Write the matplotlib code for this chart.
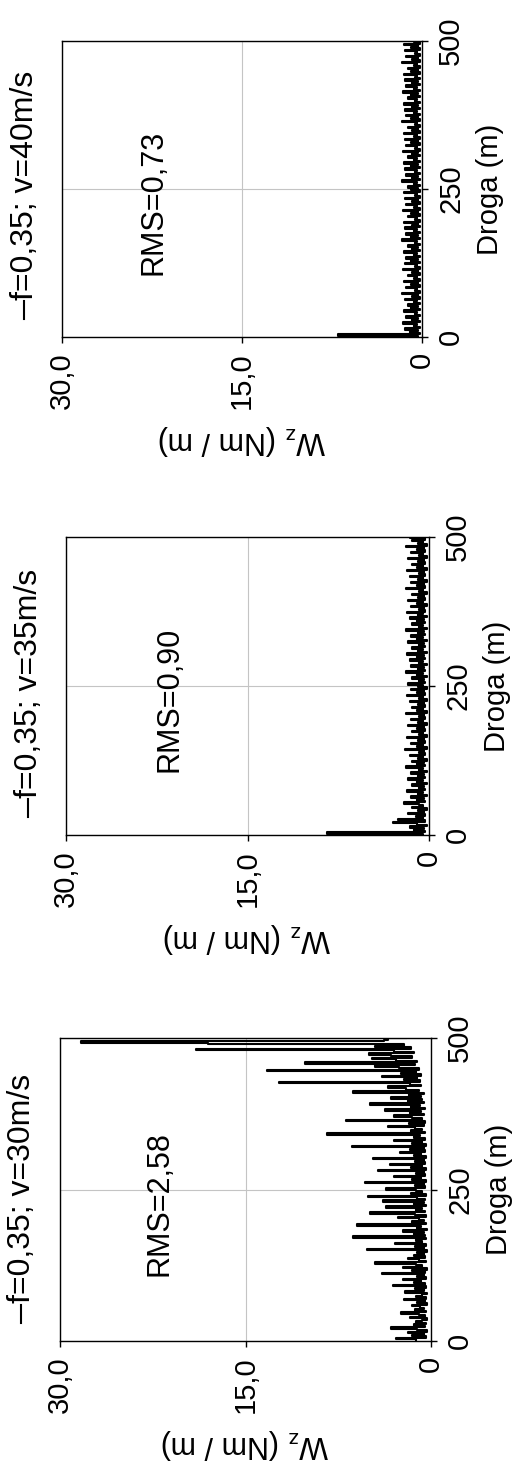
import matplotlib.pyplot as plt
import numpy as np

plt.rcParams['font.family'] = ['Liberation Sans', 'DejaVu Sans']
plt.rcParams['font.size'] = 21
plt.rcParams['mathtext.fontset'] = 'custom'
plt.rcParams['mathtext.rm'] = 'Liberation Sans'

# Droga (m), sampled every 2.5 m
droga = np.arange(0, 500.1, 2.5)

# Wz (Nm / m), f=0,35; v=30m/s
wz_30 = [
    1.2, 2.8, 0.4, 1.5, 0.6, 1.9, 0.3, 1.1, 3.2, 0.5,
    1.4, 0.4, 1.2, 0.7, 0.3, 1.7, 0.5, 1.0, 2.4, 0.4,
    1.3, 0.6, 0.9, 1.5, 0.3, 1.1, 0.5, 2.2, 0.4, 1.2,
    0.7, 0.3, 2.1, 0.6, 1.3, 0.4, 3.1, 0.5, 1.4, 0.8,
    2.3, 0.4, 1.1, 0.6, 4.0, 0.5, 1.5, 0.3, 2.3, 0.7,
    1.2, 4.5, 0.4, 1.0, 1.9, 0.5, 1.4, 0.6, 1.1, 0.3,
    5.2, 0.6, 1.3, 0.4, 2.9, 0.7, 1.2, 0.4, 6.3, 0.5,
    1.4, 0.6, 2.3, 0.3, 1.1, 0.8, 6.0, 0.4, 1.5, 0.6,
    1.0, 2.7, 0.4, 1.3, 4.9, 0.5, 1.2, 0.7, 3.6, 0.4,
    1.4, 0.6, 3.9, 0.5, 1.1, 5.1, 0.4, 1.6, 0.7, 1.2,
    3.6, 0.5, 1.3, 0.6, 5.3, 0.4, 1.5, 0.8, 3.0, 0.5,
    1.2, 0.6, 4.3, 0.4, 1.6, 0.7, 3.3, 0.5, 1.3, 0.6,
    4.7, 0.4, 1.4, 0.8, 2.5, 0.5, 1.7, 0.6, 6.4, 0.4,
    1.5, 0.7, 3.0, 0.5, 1.4, 0.9, 8.4, 0.5, 1.6, 0.7,
    1.3, 3.5, 0.6, 1.8, 0.5, 6.9, 0.7, 1.5, 3.0, 0.6,
    1.7, 0.8, 3.7, 0.5, 1.6, 0.9, 4.9, 0.6, 1.9, 0.7,
    3.2, 0.8, 1.8, 0.6, 6.3, 1.0, 2.0, 3.5, 0.8, 1.7,
    12.3, 0.9, 2.2, 1.1, 4.0, 0.8, 2.4, 1.2, 13.3, 1.0,
    2.6, 4.5, 1.3, 10.2, 1.1, 2.8, 4.8, 1.5, 3.2, 5.0,
    1.4, 3.0, 19.0, 1.6, 4.5, 2.2, 18.0, 28.3, 3.8, 3.5,
    2.0,
]

# f=0,35; v=35m/s
wz_35 = [
    0.5, 8.4, 0.3, 1.2, 0.4, 1.6, 0.2, 1.0, 3.0, 0.3,
    2.6, 0.5, 1.1, 0.3, 1.7, 0.4, 0.9, 0.2, 1.4, 0.5,
    0.8, 2.1, 0.3, 1.0, 0.4, 1.5, 0.2, 0.9, 0.5, 1.8,
    0.3, 0.8, 0.4, 1.4, 0.2, 1.0, 0.5, 1.7, 0.3, 0.9,
    0.4, 1.5, 0.2, 0.8, 0.5, 1.9, 0.3, 1.0, 0.4, 1.4,
    0.2, 0.9, 0.5, 1.6, 0.3, 0.8, 0.4, 2.0, 0.2, 1.0,
    0.5, 1.5, 0.3, 0.9, 0.4, 1.8, 0.2, 0.8, 0.5, 1.4,
    0.3, 1.0, 0.4, 1.7, 0.2, 0.9, 0.5, 1.5, 0.3, 0.8,
    0.4, 1.9, 0.2, 1.0, 0.5, 1.4, 0.3, 0.9, 0.4, 1.6,
    0.2, 0.8, 0.5, 1.8, 0.3, 1.0, 0.4, 1.5, 0.2, 0.9,
    0.5, 1.7, 0.3, 0.8, 0.4, 1.4, 0.2, 1.0, 0.5, 1.9,
    0.3, 0.9, 0.4, 1.5, 0.2, 0.8, 0.5, 1.6, 0.3, 1.0,
    0.4, 1.8, 0.2, 0.9, 0.5, 1.4, 0.3, 0.8, 0.4, 1.7,
    0.2, 1.0, 0.5, 1.5, 0.3, 0.9, 0.4, 1.9, 0.2, 0.8,
    0.5, 1.4, 0.3, 1.0, 0.4, 1.6, 0.2, 0.9, 0.5, 1.8,
    0.3, 0.8, 0.4, 1.5, 0.2, 1.0, 0.5, 1.7, 0.3, 0.9,
    0.4, 1.4, 0.2, 0.8, 0.5, 1.9, 0.3, 1.0, 0.4, 1.5,
    0.2, 0.9, 0.5, 1.6, 0.3, 0.8, 0.4, 1.8, 0.2, 1.0,
    0.5, 1.4, 0.3, 0.9, 0.4, 1.7, 0.2, 0.8, 0.5, 1.5,
    0.3, 1.0, 0.4, 1.9, 0.2, 0.9, 0.5, 1.4, 0.3, 1.6,
    0.8,
]

# f=0,35; v=40m/s
wz_40 = [
    0.3, 7.0, 0.2, 1.0, 0.3, 1.4, 0.2, 0.7, 0.4, 1.6,
    0.2, 0.8, 0.3, 1.3, 0.2, 0.6, 0.4, 1.5, 0.2, 0.9,
    0.3, 1.2, 0.2, 0.7, 0.4, 1.4, 0.2, 0.8, 0.3, 1.7,
    0.2, 0.6, 0.4, 1.3, 0.2, 0.9, 0.3, 1.5, 0.2, 0.7,
    0.4, 1.2, 0.2, 0.8, 0.3, 1.6, 0.2, 0.6, 0.4, 1.4,
    0.2, 0.9, 0.3, 1.3, 0.2, 0.7, 0.4, 1.5, 0.2, 0.8,
    0.3, 1.2, 0.2, 0.6, 0.4, 1.7, 0.2, 0.9, 0.3, 1.3,
    0.2, 0.7, 0.4, 1.4, 0.2, 0.8, 0.3, 1.5, 0.2, 0.6,
    0.4, 1.2, 0.2, 0.9, 0.3, 1.6, 0.2, 0.7, 0.4, 1.3,
    0.2, 0.8, 0.3, 1.4, 0.2, 0.6, 0.4, 1.5, 0.2, 0.9,
    0.3, 1.2, 0.2, 0.7, 0.4, 1.7, 0.2, 0.8, 0.3, 1.3,
    0.2, 0.6, 0.4, 1.4, 0.2, 0.9, 0.3, 1.5, 0.2, 0.7,
    0.4, 1.2, 0.2, 0.8, 0.3, 1.6, 0.2, 0.6, 0.4, 1.3,
    0.2, 0.9, 0.3, 1.4, 0.2, 0.7, 0.4, 1.5, 0.2, 0.8,
    0.3, 1.2, 0.2, 0.6, 0.4, 1.7, 0.2, 0.9, 0.3, 1.3,
    0.2, 0.7, 0.4, 1.4, 0.2, 0.8, 0.3, 1.5, 0.2, 0.6,
    0.4, 1.2, 0.2, 0.9, 0.3, 1.6, 0.2, 0.7, 0.4, 1.3,
    0.2, 0.8, 0.3, 1.4, 0.2, 0.6, 0.4, 1.5, 0.2, 0.9,
    0.3, 1.2, 0.2, 0.7, 0.4, 1.7, 0.2, 0.8, 0.3, 1.3,
    0.2, 0.6, 0.4, 1.4, 0.2, 0.9, 0.3, 1.5, 0.2, 0.7,
    1.1,
]

legend_labels = ['f=0,35; v=40m/s', 'f=0,35; v=35m/s', 'f=0,35; v=30m/s']
rms_labels = ['RMS=0,73', 'RMS=0,90', 'RMS=2,58']
series = [wz_40, wz_35, wz_30]

W, H = 514, 1467
# axes boxes in pixels: x0, y0 (top), x1, y1 (bottom)
boxes = [(62, 41, 422, 337), (66, 537, 429, 835), (60, 1038, 431, 1341)]
rms_x = [0.253, 0.284, 0.267]

fig = plt.figure(figsize=(W / 100, H / 100), dpi=100)

for vals, leg, rms, (x0, y0, x1, y1), rx in zip(series, legend_labels, rms_labels, boxes, rms_x):
    ax = fig.add_axes([x0 / W, 1 - y1 / H, (x1 - x0) / W, (y1 - y0) / H])
    ax.plot(vals, droga, color='black', lw=1.5, drawstyle='steps-pre')

    ax.set_xlim(30, 0)
    ax.set_ylim(0, 500)
    ax.set_xticks([30, 15, 0])
    ax.set_xticklabels(['30,0', '15,0', '0'], rotation=90)
    ax.yaxis.tick_right()
    ax.set_yticks([0, 250, 500])
    ax.set_yticklabels(['0', '250', '500'], rotation=90, va='center')
    ax.tick_params(direction='out', length=4, width=1, pad=7)
    ax.grid(True, color='#c4c4c4', lw=0.8)
    ax.set_axisbelow(True)
    for s in ax.spines.values():
        s.set_linewidth(1.0)

    ax.set_xlabel('W$_\\mathregular{z}$ (Nm / m)', rotation=180, labelpad=10, fontsize=22)
    ax.yaxis.set_label_position('right')
    ax.set_ylabel('Droga (m)', rotation=90, labelpad=8)

    # rotated legend and RMS note
    ax.plot([-0.105, -0.105], [0.06, 0.12], color='black', lw=1.5,
            transform=ax.transAxes, clip_on=False)
    ax.text(-0.102, 0.125, leg, rotation=90, ha='center', va='bottom',
            transform=ax.transAxes, fontsize=23)
    ax.text(rx, 0.455, rms, rotation=90, ha='center', va='center',
            transform=ax.transAxes, fontsize=22)

plt.savefig('out.png', dpi=100)
